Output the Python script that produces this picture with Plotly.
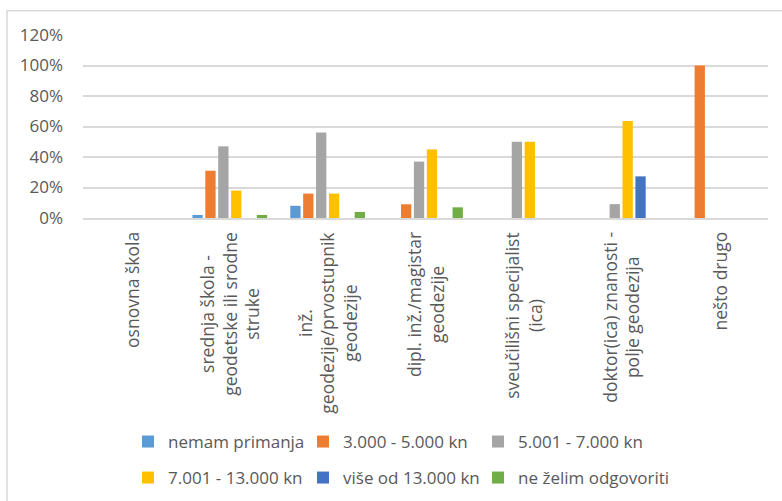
import plotly.graph_objects as go

# Education level categories (x axis) and monthly income brackets (series)
categories = [
    "osnovna škola",
    "srednja škola -<br>geodetske ili srodne<br>struke",
    "inž.<br>geodezije/prvostupnik<br>geodezije",
    "dipl. inž./magistar<br>geodezije",
    "sveučilišni specijalist<br>(ica)",
    "doktor(ica) znanosti -<br>polje geodezija",
    "nešto drugo",
]
cat_keys = ["c1", "c2", "c3", "c4", "c5", "c6", "c7"]

series_names = [
    "nemam primanja",
    "3.000 - 5.000 kn",
    "5.001 - 7.000 kn",
    "7.001 - 13.000 kn",
    "više od 13.000 kn",
    "ne želim odgovoriti",
]

nemam_primanja = [0.0, 0.02, 0.08, 0.0, 0.0, 0.0, 0.0]
kn_3000_5000 = [0.0, 0.31, 0.16, 0.09, 0.0, 0.0, 1.00]
kn_5001_7000 = [0.0, 0.47, 0.56, 0.37, 0.50, 0.091, 0.0]
kn_7001_13000 = [0.0, 0.18, 0.16, 0.45, 0.50, 0.636, 0.0]
vise_od_13000 = [0.0, 0.0, 0.0, 0.0, 0.0, 0.273, 0.0]
ne_zelim = [0.0, 0.02, 0.04, 0.07, 0.0, 0.0, 0.0]

series_values = [nemam_primanja, kn_3000_5000, kn_5001_7000,
                 kn_7001_13000, vise_od_13000, ne_zelim]
colors = ["#5B9BD5", "#ED7D31", "#A5A5A5", "#FFC000", "#4472C4", "#70AD47"]

y_ticks = [0, 0.2, 0.4, 0.6, 0.8, 1.0, 1.2]

FONT = "Open Sans"
TXT = "#595959"

# legend grid: three columns, two rows (container coordinates)
legend_cols = [0.1637, 0.3875, 0.6113]
legend_rows = [0.1178, 0.0459]

legend_ids = ["legend", "legend2", "legend3", "legend4", "legend5", "legend6"]

fig = go.Figure()
for i, (name, vals, col) in enumerate(zip(series_names, series_values, colors)):
    fig.add_trace(go.Bar(
        x=cat_keys, y=vals, name=name,
        marker=dict(color=col, line=dict(width=0)),
        legend=legend_ids[i],
        hoverinfo="skip",
    ))

# rotated, centred category labels hanging below the axis
for key, label in zip(cat_keys, categories):
    fig.add_annotation(
        x=key, xref="x", y=0, yref="paper", yshift=-12,
        text=label, textangle=-90, showarrow=False,
        xanchor="center", yanchor="top", align="center",
        font=dict(family=FONT, size=17.5, color=TXT),
    )

# outer chart frame
fig.add_shape(type="rect", xref="paper", yref="paper",
              x0=-0.111, x1=1.2, y0=-1.8, y1=1.133,
              line=dict(color="#D9D9D9", width=1.5), layer="below")

legends = {}
for i, lid in enumerate(legend_ids):
    legends[lid] = dict(
        orientation="h", xref="container", yref="container",
        x=legend_cols[i % 3], y=legend_rows[i // 3],
        xanchor="left", yanchor="middle",
        font=dict(family=FONT, size=17, color=TXT),
        bgcolor="rgba(0,0,0,0)", itemclick=False, itemdoubleclick=False,
    )

fig.update_layout(
    width=782, height=501,
    margin=dict(l=83, r=14, t=35, b=283),
    paper_bgcolor="white", plot_bgcolor="white",
    barmode="group", bargap=0.21, bargroupgap=0.2,
    font=dict(family=FONT, size=17, color=TXT),
    xaxis=dict(
        showticklabels=False, showgrid=False, zeroline=False,
        showline=True, linecolor="#D9D9D9", linewidth=1.5,
        ticks="", fixedrange=True,
    ),
    yaxis=dict(
        range=[0, 1.2], tickvals=y_ticks, tickformat=".0%",
        showgrid=True, gridcolor="#D9D9D9", gridwidth=1.5,
        zeroline=False, showline=False,
        ticks="", ticklabelstandoff=19,
        tickfont=dict(family=FONT, size=17, color=TXT),
        fixedrange=True,
    ),
    showlegend=True,
    **legends,
)

fig.write_html("out.html")
